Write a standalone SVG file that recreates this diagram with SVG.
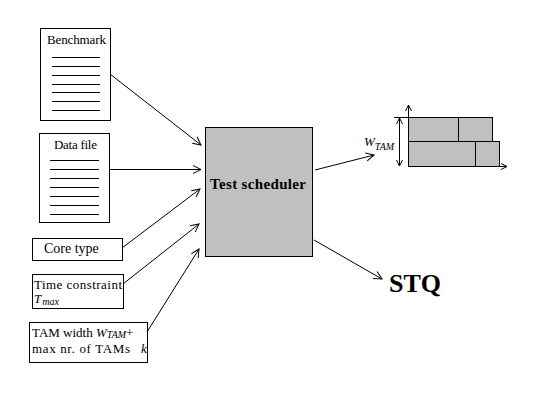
<svg xmlns="http://www.w3.org/2000/svg" width="548" height="417" viewBox="0 0 548 417">
<style>
.box{fill:#fff;stroke:#000;stroke-width:1}
.gray{fill:#c0c0c0;stroke:#000;stroke-width:1}
.ln{stroke:#000;stroke-width:1;fill:none}
.t{font-family:"Liberation Serif",serif;font-size:13px;fill:#000}
.it{font-style:italic}
.sub{font-style:italic;font-size:10px}
.conn{stroke:#000;stroke-width:1;fill:none;marker-end:url(#ah)}
</style>
<defs>
<marker id="ah" markerUnits="userSpaceOnUse" markerWidth="10" markerHeight="10" refX="8" refY="4" orient="auto" overflow="visible">
<path d="M0,0 L8,4 L0,8" fill="none" stroke="#000" stroke-width="1"/>
</marker>
<marker id="ahs" markerUnits="userSpaceOnUse" markerWidth="8" markerHeight="8" refX="6" refY="3" orient="auto-start-reverse" overflow="visible">
<path d="M0,0 L6,3 L0,6" fill="none" stroke="#000" stroke-width="1"/>
</marker>
</defs>
<rect width="548" height="417" fill="#fff"/>
<g id="benchmark">
<rect class="box" x="40.5" y="28.5" width="70" height="92"/>
<text class="t" x="47" y="44" textLength="59">Benchmark</text>
<path class="ln" d="M52,57.5H100M52,66.5H100M52,75.5H100M52,84.5H100M52,92.5H100M52,101.5H100M52,110.5H100"/>
</g>
<g id="datafile">
<rect class="box" x="39.5" y="133.5" width="70" height="89"/>
<text class="t" x="54" y="149" textLength="43">Data file</text>
<path class="ln" d="M50,160.5H99M50,169.5H99M50,178.5H99M50,187.5H99M50,196.5H99M50,205.5H99M50,214.5H99"/>
</g>
<g id="coretype">
<rect class="box" x="32.5" y="238.5" width="90" height="22"/>
<text class="t" x="44" y="253" font-size="14" style="font-size:14px">Core type</text>
</g>
<g id="timeconstraint">
<rect class="box" x="32.5" y="274.5" width="91" height="34"/>
<text class="t" x="34" y="289" textLength="88">Time constraint</text>
<text class="t" x="34" y="303"><tspan class="it">T</tspan><tspan class="sub" dx="1" dy="2">max</tspan></text>
</g>
<g id="tamwidth">
<rect class="box" x="29.5" y="322.5" width="118" height="40"/>
<text class="t" x="32" y="337">TAM width <tspan class="it">W</tspan><tspan class="sub" dy="1">TAM</tspan><tspan dy="-1">+</tspan></text>
<text class="t" x="32" y="353" textLength="98">max nr. of TAMs</text>
<text class="t it" x="141" y="353">k</text>
</g>
<g id="scheduler">
<rect class="gray" x="205.5" y="127.5" width="107" height="129"/>
<text x="210" y="189" font-family="Liberation Serif,serif" font-weight="bold" font-size="15" textLength="96">Test scheduler</text>
</g>
<g id="stq">
<text x="389" y="292" font-family="Liberation Serif,serif" font-weight="bold" font-size="26">STQ</text>
</g>
<g id="gantt">
<rect class="gray" x="408.5" y="117.5" width="50" height="24"/>
<rect class="gray" x="458.5" y="117.5" width="34" height="24"/>
<rect class="gray" x="408.5" y="141.5" width="67" height="25"/>
<rect class="gray" x="475.5" y="141.5" width="24" height="25"/>
<line class="ln" x1="408.5" y1="166.5" x2="408.5" y2="105" marker-end="url(#ahs)"/>
<line class="ln" x1="408.5" y1="166.5" x2="507" y2="166.5" marker-end="url(#ahs)"/>
<line class="ln" x1="399.5" y1="118" x2="399.5" y2="166" marker-start="url(#ahs)" marker-end="url(#ahs)"/>
<line class="ln" x1="394" y1="117.5" x2="408" y2="117.5"/>
<text class="t" x="364" y="146"><tspan class="it">W</tspan><tspan class="sub" dy="4">TAM</tspan></text>
</g>
<g id="connectors">
<line class="conn" x1="110" y1="74" x2="201" y2="145"/>
<line class="conn" x1="109" y1="169.5" x2="201" y2="169.5"/>
<line class="conn" x1="122" y1="248" x2="200" y2="189"/>
<line class="conn" x1="123" y1="284" x2="199" y2="224"/>
<line class="conn" x1="147" y1="332" x2="199" y2="249"/>
<line class="conn" x1="315" y1="170" x2="374" y2="155"/>
<line class="conn" x1="314" y1="240" x2="382" y2="279"/>
</g>
</svg>
